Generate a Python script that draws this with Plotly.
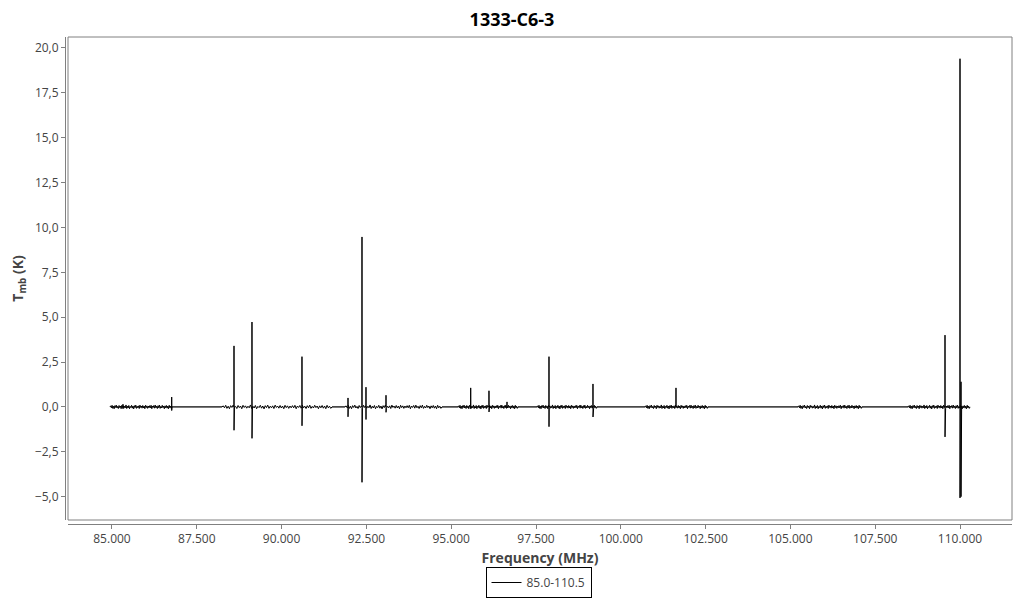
import numpy as np
import plotly.graph_objects as go

# Observed frequency windows (MHz): start, end
seg_start = [84941, 88243, 91869, 95200, 97529, 100713, 105224, 108467]
seg_end = [86769, 91486, 94729, 96969, 99298, 102571, 107111, 110295]

# Baseline noise values (K), read as typical ripple of the trace
noise = [0.00, 0.06, -0.05, 0.09, -0.08, 0.04, -0.10, 0.07, -0.03, 0.10,
         -0.06, 0.03, -0.09, 0.08, -0.04, 0.05, -0.10, 0.09, -0.03, 0.06,
         -0.07, 0.04, -0.05, 0.11, -0.09, 0.04, -0.06, 0.08, -0.10, 0.03,
         -0.04, 0.09, -0.07, 0.05, -0.11, 0.07, -0.04, 0.10, -0.08, 0.04,
         -0.05, 0.06, -0.09, 0.10, -0.03, 0.05, -0.07, 0.08, -0.06, 0.05,
         -0.10, 0.09, -0.04, 0.06, -0.08, 0.05, -0.05, 0.07, -0.05, 0.09,
         -0.10, 0.05, -0.03, 0.08, -0.07, 0.10, -0.05, 0.04, -0.09, 0.07,
         -0.05, 0.10, -0.08, 0.03, -0.06, 0.09, -0.04, 0.05, -0.10, 0.06,
         -0.05, 0.08, -0.07, 0.05, -0.10, 0.09, -0.05, 0.04, -0.08, 0.00]

# Spectral lines: frequency (MHz), peak (K), trough (K)
line_freq = [85324, 86760, 88597, 88610, 89127, 89140, 90601, 91958, 92370,
             92488, 93078, 95575, 96114, 96645, 97883, 99180, 101627,
             109558, 110000, 110030]
line_peak = [0.15, 0.55, 3.40, 0.20, 4.73, 0.35, 2.80, 0.50, 9.47,
             1.10, 0.65, 1.06, 0.90, 0.28, 2.80, 1.28, 1.06,
             4.00, 19.40, 1.40]
line_trough = [-0.10, -0.20, -1.30, -1.20, -1.75, -1.60, -1.05, -0.55, -4.20,
               -0.70, -0.30, -0.10, -0.28, -0.05, -1.10, -0.56, -0.05,
               -1.67, -5.07, -5.00]

xs, ys = [], []
for s, e in zip(seg_start, seg_end):
    fx = np.linspace(s, e, len(noise))
    xs.extend(fx.tolist())
    ys.extend(noise)
for f, p, t in zip(line_freq, line_peak, line_trough):
    xs.extend([f - 0.5, f, f + 0.5, f + 1.0])
    ys.extend([0.0, p, t, 0.0])

order = np.argsort(xs, kind="stable")
xs = np.array(xs)[order]
ys = np.array(ys)[order]

# gray baseline joining the observed windows
base_x, base_y = [], []
for e, s in zip(seg_end[:-1], seg_start[1:]):
    base_x.extend([e, s, None])
    base_y.extend([0.0, 0.0, None])

fig = go.Figure()
fig.add_trace(go.Scatter(
    x=base_x, y=base_y, mode="lines", showlegend=False, hoverinfo="skip",
    line=dict(color="#808080", width=1),
))
fig.add_trace(go.Scatter(
    x=xs, y=ys, mode="lines", name="85.0-110.5",
    line=dict(color="black", width=1),
))

axis_gray = "#808080"
tick_font = dict(family="Open Sans", size=12, color="#444444")

W, H = 1016, 592  # page body offset of 8px
fig.update_layout(
    width=W, height=H,
    paper_bgcolor="white", plot_bgcolor="white",
    separators=",.",
    margin=dict(l=57, r=12, t=29, b=76, autoexpand=False),
    title=dict(text="<b>1333-C6-3</b>", x=(512 - 8) / W, xanchor="center",
               yref="container", y=1 - 12 / H, yanchor="middle",
               font=dict(family="Open Sans", size=18, color="black")),
    showlegend=True,
    legend=dict(orientation="v", xref="paper", x=0.5, xanchor="center",
                yref="container", y=1 - 559 / H, yanchor="top",
                bordercolor="black", borderwidth=1, bgcolor="white",
                font=dict(family="Open Sans", size=12, color="#444444"),
                itemwidth=30, tracegroupgap=0),
    xaxis=dict(
        domain=[3 / 947, 1], range=[83703, 111533],
        tickmode="linear", tick0=85000, dtick=2500, tickformat=",.0f",
        showgrid=False, zeroline=False, automargin=False,
        showline=True, linecolor=axis_gray, linewidth=1,
        ticks="outside", ticklen=4, tickcolor=axis_gray,
        anchor="free", position=0,
        tickfont=tick_font,
        title=dict(text="<b>Frequency (MHz)</b>", standoff=6,
                   font=dict(family="Open Sans", size=14, color="#444444")),
    ),
    yaxis=dict(
        domain=[4 / 487, 1], range=[-6.30, 20.61],
        tickmode="linear", tick0=-5, dtick=2.5, tickformat=".1f",
        showgrid=False, zeroline=False, automargin=False,
        showline=True, linecolor=axis_gray, linewidth=1,
        ticks="outside", ticklen=4, tickcolor=axis_gray,
        anchor="free", position=0,
        tickfont=tick_font,
        title=dict(text="<b>T<sub>mb</sub> (K)</b>", standoff=8,
                   font=dict(family="Open Sans", size=14, color="#444444")),
    ),
    shapes=[dict(type="rect", xref="x domain", yref="y domain", x0=0, x1=1, y0=0, y1=1,
                 line=dict(color=axis_gray, width=1), fillcolor="rgba(0,0,0,0)", layer="above")],
)

fig.write_html("out.html")
